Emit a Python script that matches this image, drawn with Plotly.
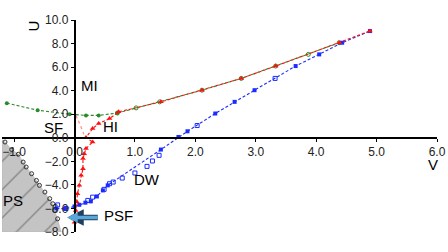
import plotly.graph_objects as go

# ---- data ----
x_ticks = [-1, 0, 1, 2, 3, 4, 5, 6]
y_ticks = [-8, -6, -4, -2, 0, 2, 4, 6, 8, 10]

# green: MI branch (filled) and continuation (open)
green_left_x = [-1.12, -0.61, -0.08, 0.19, 0.40, 0.71]
green_left_y = [2.94, 2.34, 2.00, 1.90, 1.90, 2.10]
green_open_x = [0.71, 1.02, 1.41, 2.11, 2.76, 3.33, 3.87, 4.38]
green_open_y = [2.10, 2.54, 3.05, 4.04, 5.04, 6.09, 7.08, 8.07]

# red: HI branch (triangles)
red_x = [0.00, 0.02, 0.04, 0.05, 0.08, 0.11, 0.14, 0.14, 0.16, 0.19, 0.30, 0.19,
         0.30, 0.40, 0.58, 0.73, 1.43, 2.11, 2.76, 3.33, 4.38, 4.89]
red_y = [-7.17, -6.17, -5.46, -4.75, -4.04, -3.19, -2.62, -1.77, -1.35, -0.92, -0.36, 0.02,
         0.78, 1.21, 1.63, 2.20, 3.05, 4.04, 5.04, 6.09, 8.07, 9.06]

# SF: light red dotted curve
sf_x = [0.02, 0.06, 0.10, 0.14, 0.17]
sf_y = [1.90, 1.50, 1.00, 0.50, 0.00]

# blue: filled squares on the dashed line
blue_x = [-0.30, -0.16, 0.00, 0.08, 0.18, 0.27, 0.37, 0.47, 0.55, 1.43, 1.72, 1.87,
          2.33, 2.65, 2.98, 3.66, 4.05, 4.43, 4.89]
blue_y = [-6.00, -6.03, -5.83, -5.69, -5.51, -5.40, -4.98, -4.47, -4.04, -1.00, 0.07, 0.55,
          2.06, 3.05, 4.04, 6.09, 7.08, 8.07, 9.06]
# blue: open squares (DW)
dw_x = [-0.28, -0.14, 0.22, 0.30, 0.49, 0.58, 0.64, 0.79, 1.00, 1.20, 1.29, 1.40, 2.03, 3.32]
dw_y = [-5.70, -6.00, -5.32, -5.04, -4.38, -3.90, -3.76, -3.42, -2.99, -2.43, -1.97, -1.49, 1.04, 5.04]

# PS boundary (open black circles)
ps_x = [-1.15, -1.04, -0.93, -0.85, -0.80, -0.71, -0.63, -0.58, -0.49, -0.41, -0.36, -0.33, -0.28]
ps_y = [-0.36, -1.00, -1.40, -2.06, -2.48, -3.05, -3.62, -4.04, -4.61, -5.17, -5.60, -6.17, -6.88]

x_range = [-1.2, 6.0]
y_range = [-8.0, 10.0]

FONT = "Liberation Sans, Arial, sans-serif"

fig = go.Figure()

# PS grey hatched region, built from the boundary and the axis ranges
poly_x = [x_range[0], ps_x[0]] + ps_x + [ps_x[-1] + 0.06, x_range[0], x_range[0]]
poly_y = [ps_y[0] + 0.2, ps_y[0]] + ps_y + [y_range[0], y_range[0], ps_y[0] + 0.2]
fig.add_trace(go.Scatter(
    x=poly_x, y=poly_y, mode="lines", fill="toself",
    fillcolor="#c4c4c4",
    fillpattern=dict(shape="/", fgcolor="#4a4a4a", bgcolor="#c4c4c4", size=20, solidity=0.07),
    line=dict(color="#b0b0b0", width=0.5), hoverinfo="skip", showlegend=False))

fig.add_trace(go.Scatter(
    x=ps_x, y=ps_y, mode="markers",
    marker=dict(symbol="circle-open", size=4, color="#333333", line=dict(width=1)),
    showlegend=False))

# green
fig.add_trace(go.Scatter(
    x=green_open_x, y=green_open_y, mode="lines+markers",
    line=dict(color="#2a8a2a", width=1.1, dash="3px,2px"),
    marker=dict(symbol="circle-open", size=4, color="#2a8a2a", line=dict(width=1)),
    showlegend=False))
fig.add_trace(go.Scatter(
    x=green_left_x, y=green_left_y, mode="lines+markers",
    line=dict(color="#2a8a2a", width=1.1, dash="3px,2px"),
    marker=dict(symbol="circle", size=4, color="#2a8a2a"),
    showlegend=False))

# SF dotted
fig.add_trace(go.Scatter(
    x=sf_x, y=sf_y, mode="lines",
    line=dict(color="#ff8c8c", width=1.2, dash="dot", shape="spline"),
    showlegend=False))

# blue
fig.add_trace(go.Scatter(
    x=blue_x, y=blue_y, mode="lines+markers",
    line=dict(color="#1a2cff", width=1.1, dash="3px,2px"),
    marker=dict(symbol="square", size=4, color="#1a2cff"),
    showlegend=False))
fig.add_trace(go.Scatter(
    x=dw_x, y=dw_y, mode="markers",
    marker=dict(symbol="square-open", size=4, color="#1a2cff", line=dict(width=1)),
    showlegend=False))

# red
fig.add_trace(go.Scatter(
    x=red_x, y=red_y, mode="lines+markers",
    line=dict(color="#ff1010", width=1.1, dash="3px,2px"),
    marker=dict(symbol="triangle-up", size=5, color="#ff1010"),
    showlegend=False))

# region labels
labels = [("MI", 0.24, 4.47), ("SF", -0.35, 0.85), ("HI", 0.60, 0.92),
          ("DW", 1.20, -3.56), ("PS", -1.01, -5.3), ("PSF", 0.72, -6.6)]
for t, lx, ly in labels:
    fig.add_annotation(x=lx, y=ly, text=t, showarrow=False,
                       font=dict(family=FONT, size=15, color="black"))

# axis titles
fig.add_annotation(x=-0.68, y=9.49, text="U", showarrow=False, textangle=-90,
                   font=dict(family=FONT, size=15, color="black"))
fig.add_annotation(x=5.93, y=-2.25, text="V", showarrow=False,
                   font=dict(family=FONT, size=15, color="black"))

# PSF arrow (outline + fill)
for w, c in [(5.5, "#1f3f5f"), (3.5, "#5aa6d8")]:
    fig.add_annotation(x=-0.12, y=-6.77, ax=0.41, ay=-6.77, axref="x", ayref="y",
                       xref="x", yref="y", text="", showarrow=True,
                       arrowhead=2, arrowsize=0.6, arrowwidth=w, arrowcolor=c)

axis_common = dict(showgrid=False, zeroline=False, showline=True, linecolor="black",
                   linewidth=1.5, ticks="outside", ticklen=3, tickcolor="black",
                   tickwidth=1.2, tickformat=".1f",
                   tickfont=dict(family=FONT, size=12, color="#222222"))

fig.update_layout(
    width=448, height=252,
    margin=dict(l=2, r=9, t=20, b=20),
    paper_bgcolor="white", plot_bgcolor="white",
    showlegend=False,
    xaxis=dict(range=x_range, tickvals=x_ticks, anchor="free",
               position=(0 - y_range[0]) / (y_range[1] - y_range[0]), **axis_common),
    yaxis=dict(range=y_range, tickvals=y_ticks, anchor="free",
               position=(0 - x_range[0]) / (x_range[1] - x_range[0]), **axis_common),
)

fig.write_html("out.html", config={"displayModeBar": False},
               post_script="document.body.style.margin='0';document.body.style.overflow='hidden';")
